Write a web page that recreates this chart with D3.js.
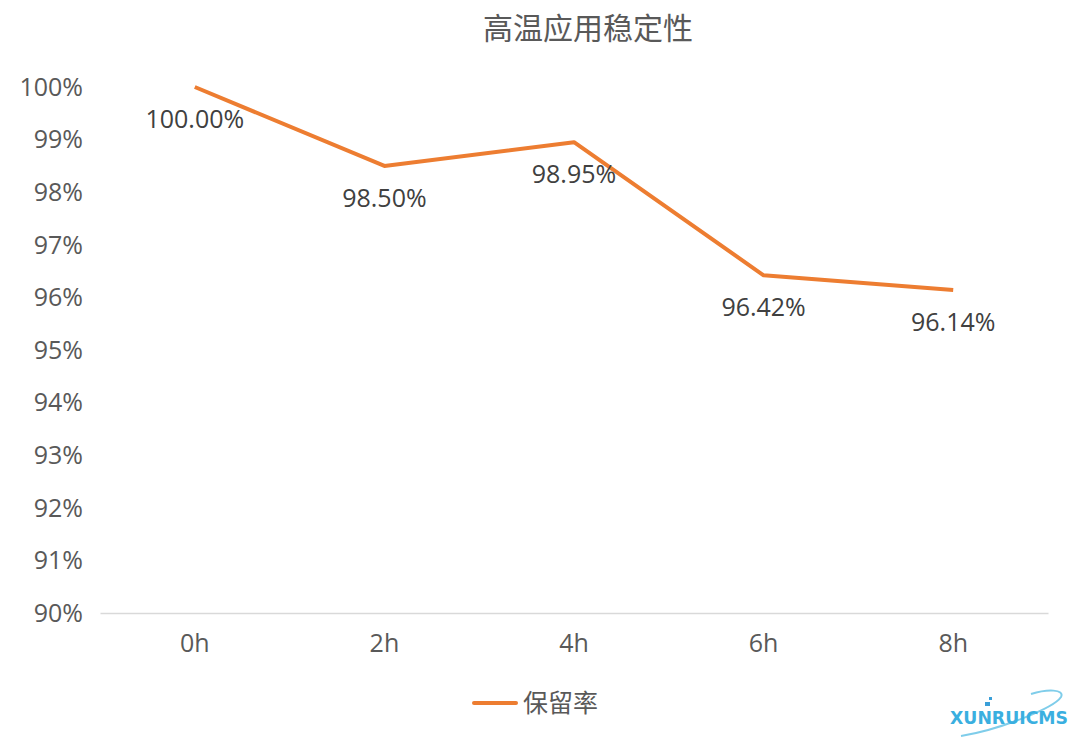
<!DOCTYPE html>
<html>
<head>
<meta charset="utf-8">
<script src="https://cdn.jsdelivr.net/npm/d3@7/dist/d3.min.js"></script>
<style>
  body { margin: 0; background: #fff; }
  svg { display: block; font-family: "Open Sans", "Noto Sans CJK SC", sans-serif; }
</style>
</head>
<body>
<svg id="chart" width="1074" height="741"></svg>
<script>
  // datos
  const categories = ["0h", "2h", "4h", "6h", "8h"];
  const retention = [100.00, 98.50, 98.95, 96.42, 96.14];
  const yTicks = [90, 91, 92, 93, 94, 95, 96, 97, 98, 99, 100];
  const seriesName = "保留率";
  const chartTitle = "高温应用稳定性";

  const svg = d3.select("#chart");
  const margin = { left: 100, right: 26, top: 87, bottom: 128 };
  const W = 1074, H = 741;
  const FS = "25px";

  const x = d3.scaleBand().domain(categories).range([margin.left, W - margin.right]);
  const y = d3.scaleLinear().domain([90, 100]).range([H - margin.bottom, margin.top]);

  // título
  svg.append("text")
    .attr("x", 588).attr("y", 39)
    .attr("text-anchor", "middle")
    .style("font-size", "30px")
    .style("fill", "#595959")
    .text(chartTitle);

  // eje Y (solo etiquetas)
  svg.append("g").selectAll("text")
    .data(yTicks)
    .join("text")
    .attr("x", 83)
    .attr("y", d => y(d))
    .attr("dy", "0.35em")
    .attr("text-anchor", "end")
    .style("font-size", FS)
    .style("fill", "#595959")
    .text(d => d + "%");

  // eje X
  const xAxis = svg.append("g")
    .attr("transform", `translate(0,${y(90)})`)
    .call(d3.axisBottom(x).tickSize(0).tickPadding(21));
  xAxis.select(".domain").attr("stroke", "#d9d9d9").attr("stroke-width", 1.5);
  xAxis.selectAll("text")
    .style("font-family", "'Open Sans', sans-serif")
    .style("font-size", FS)
    .style("fill", "#595959");

  // línea
  const line = d3.line()
    .x((d, i) => x(categories[i]) + x.bandwidth() / 2)
    .y(d => y(d));

  svg.append("path")
    .datum(retention)
    .attr("d", line)
    .attr("fill", "none")
    .attr("stroke", "#ED7D31")
    .attr("stroke-width", 4)
    .attr("stroke-linejoin", "round");

  // etiquetas de datos
  svg.append("g").selectAll("text")
    .data(retention)
    .join("text")
    .attr("x", (d, i) => x(categories[i]) + x.bandwidth() / 2)
    .attr("y", d => y(d) + 32)
    .attr("dy", "0.35em")
    .attr("text-anchor", "middle")
    .style("font-size", FS)
    .style("fill", "#404040")
    .text(d => d.toFixed(2) + "%");

  // leyenda
  const lg = svg.append("g").attr("transform", "translate(474,703)");
  lg.append("line")
    .attr("x1", 0).attr("x2", 42)
    .attr("stroke", "#ED7D31").attr("stroke-width", 4)
    .attr("stroke-linecap", "round");
  lg.append("text")
    .attr("x", 49).attr("dy", "0.35em")
    .style("font-size", FS)
    .style("fill", "#595959")
    .text(seriesName);

  // marca de agua
  const wm = svg.append("g").attr("transform", "translate(1009,716)");
  wm.append("path")
    .attr("d", "M -48 20 C -10 14, 45 -8, 52 -19 C 56 -27, 38 -27, 22 -22")
    .attr("fill", "none")
    .attr("stroke", "#7fcdea")
    .attr("stroke-width", 2);
  wm.append("rect").attr("x", -24).attr("y", -14).attr("width", 5).attr("height", 4).attr("fill", "#3a9fd8");
  wm.append("rect").attr("x", -20).attr("y", -19).attr("width", 3).attr("height", 3).attr("fill", "#3a9fd8");
  wm.append("text")
    .attr("x", -59)
    .attr("y", 8)
    .attr("textLength", 118)
    .attr("lengthAdjust", "spacingAndGlyphs")
    .style("font-family", "'DejaVu Sans', sans-serif")
    .style("font-weight", "bold")
    .style("font-size", "17px")
    .style("fill", "#3aafe0")
    .text("XUNRUICMS");
</script>
</body>
</html>
